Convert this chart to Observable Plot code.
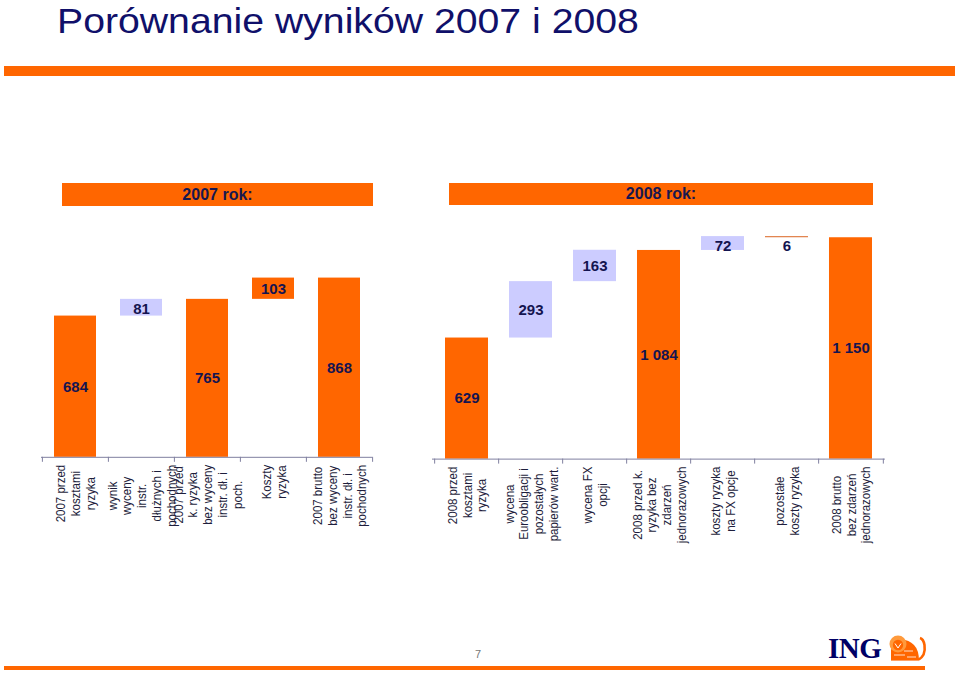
<!DOCTYPE html>
<html>
<head>
<meta charset="utf-8">
<script src="https://cdn.jsdelivr.net/npm/d3@7"></script>
<script src="https://cdn.jsdelivr.net/npm/@observablehq/plot@0.6"></script>
<style>
  body { margin: 0; background: #fff; font-family: "Liberation Sans", Arial, sans-serif; }
  #page { position: relative; width: 959px; height: 675px; overflow: hidden; background: #fff; }
  .abs { position: absolute; }
  #title { left: 57px; top: 3px; font-size: 35px; line-height: 35px; color: #10106a; white-space: nowrap; transform: scaleX(1.12); transform-origin: left top; }
  .band { background: #FF6600; }
  .hdr { background: #FF6600; color: #17174f; font-weight: bold; font-size: 16px; text-align: center; }
  #pnum { left: 470px; top: 648px; width: 16px; text-align: center; font-size: 11px; color: #777; }
  #ing { left: 828px; top: 633px; font-family: "Liberation Serif", "DejaVu Serif", serif; font-weight: bold; font-size: 29px; line-height: 30px; color: #000066; letter-spacing: -0.5px; }
</style>
</head>
<body>
<div id="page">
  <div id="title" class="abs">Porównanie wyników 2007 i 2008</div>
  <div class="abs band" style="left:4px;top:66px;width:951px;height:10px;"></div>
  <div id="hdr2007" class="abs hdr" style="left:62px;top:183px;width:311px;height:23px;line-height:23px;"></div>
  <div id="hdr2008" class="abs hdr" style="left:449px;top:183px;width:424px;height:22px;line-height:22px;"></div>
  <div id="pnum" class="abs">7</div>
  <div id="ing" class="abs">ING</div>
  <svg class="abs" style="left:886px;top:633px;" width="42" height="31" viewBox="0 0 42 31">
    <path d="M5 28 L5 17 Q6 9 13 7 Q22 6 28 12 Q33 17 33 28 Z" fill="#FF6600"/>
    <circle cx="12" cy="11" r="8.5" fill="#FF9a3c"/>
    <circle cx="12" cy="12" r="5.2" fill="#FF6600"/>
    <path d="M9 10.5 L12 15 L15 10.5" stroke="#fff" stroke-width="1" fill="none"/>
    <path d="M32 27 Q40 23 38.5 12 Q37.5 6 34 5" stroke="#FF6600" stroke-width="2.6" fill="none"/>
    <path d="M8 22 L19 22 M18 18 L27 18 M21 24 L30 24 M5 28 L34 28" stroke="#fff" stroke-width="0.8"/>
  </svg>
  <div class="abs band" style="left:4px;top:666px;width:921px;height:4px;"></div>
</div>
<script>
// ---------------- data ----------------
const headers = ["2007 rok:", "2008 rok:"];

const cats2007 = [
  "2007 przed\nkosztami\nryzyka",
  "wynik\nwyceny\ninstr.\ndłużnych i\npochodnych",
  "2007 przed\nk. ryzyka\nbez wyceny\ninstr. dł. i\npoch.",
  "Koszty\nryzyka",
  "2007 brutto\nbez wyceny\ninstr. dł. i\npochodnych"
];
const values2007 = [684, 81, 765, 103, 868];
const kinds2007 = ["suma", "wynik", "suma", "koszty", "suma"];

const cats2008 = [
  "2008 przed\nkosztami\nryzyka",
  "wycena\nEuroobligacji i\npozostałych\npapierów wart.",
  "wycena FX\nopcji",
  "2008 przed k.\nryzyka bez\nzdarzeń\njednorazowych",
  "koszty ryzyka\nna FX opcje",
  "pozostałe\nkoszty ryzyka",
  "2008 brutto\nbez zdarzeń\njednorazowych"
];
const values2008 = [629, 293, 163, 1084, 72, -6, 1150];
const kinds2008 = ["suma", "wynik", "wynik", "suma", "wynik", "koszty", "suma"];

// ---------------- helpers ----------------
document.getElementById("hdr2007").textContent = headers[0];
document.getElementById("hdr2008").textContent = headers[1];

const fmt = d3.formatLocale({decimal: ",", thousands: "\u00a0", grouping: [3], currency: ["", ""]}).format(",");

function waterfall(cats, vals, kinds) {
  let run = 0;
  return cats.map((c, i) => {
    const v = vals[i], k = kinds[i];
    let lo, hi;
    if (k === "suma") { lo = 0; hi = v; run = v; }
    else { const s = run, e = run + v; lo = Math.min(s, e); hi = Math.max(s, e); run = e; }
    return {cat: c, kind: k, label: fmt(Math.abs(v)), lo, hi, mid: (lo + hi) / 2};
  });
}

const LABEL_FONT = 11.5;
const STRETCH = 1.1;
const ctx = document.createElement("canvas").getContext("2d");
ctx.font = `${LABEL_FONT}px "Liberation Sans", Arial, sans-serif`;
const maxLineWidth = (s) => d3.max(s.split("\n"), (l) => ctx.measureText(l).width);

function chart(cfg) {
  const {cats, rows, plotLeft, plotRight, axisY, pxPerUnit, ymax, padding, colors} = cfg;
  const mL = 20, mR = 20, mT = 10, mB = 110;
  const plotW = plotRight - plotLeft;
  const plotH = ymax * pxPerUnit;
  const step = plotW / cats.length;
  const tickLen = 5 / pxPerUnit;
  const axisColor = "#7f7fa0";
  const textColor = "#141450";
  const small = (d) => (d.hi - d.lo) * pxPerUnit < 18;

  const labelMarks = cats.map((c) => Plot.text([c], {
    x: (d) => d, text: (d) => d, frameAnchor: "bottom",
    dy: 7.5 + maxLineWidth(c) / 2, rotate: -90,
    textAnchor: "middle", lineAnchor: "middle", lineHeight: 1.28 / STRETCH,
    fontSize: LABEL_FONT, fill: "#1e1e3c", ariaDescription: "xlab"
  }));

  const svg = Plot.plot({
    width: plotW + mL + mR,
    height: plotH + mT + mB,
    marginLeft: mL, marginRight: mR, marginTop: mT, marginBottom: mB,
    style: {fontFamily: '"Liberation Sans", Arial, sans-serif', overflow: "visible", background: "transparent"},
    x: {domain: cats, paddingInner: padding, paddingOuter: padding / 2, axis: null},
    y: {domain: [0, ymax], axis: null},
    color: {domain: Object.keys(colors), range: Object.values(colors)},
    marks: [
      Plot.barY(rows, {x: "cat", y1: "lo", y2: "hi", fill: "kind"}),
      Plot.ruleY([0], {stroke: axisColor, strokeWidth: 1}),
      Plot.ruleX(cats, {x: (d) => d, dx: -step / 2, y1: 0, y2: -tickLen, stroke: axisColor}),
      Plot.ruleX([cats[cats.length - 1]], {x: (d) => d, dx: step / 2, y1: 0, y2: -tickLen, stroke: axisColor}),
      Plot.text(rows.filter((d) => !small(d)), {x: "cat", y: "mid", text: "label", fontSize: 15, fontWeight: "bold", fill: textColor}),
      Plot.text(rows.filter(small), {x: "cat", y: "hi", dy: 10, text: "label", fontSize: 15, fontWeight: "bold", fill: textColor}),
      ...labelMarks
    ]
  });
  // the slide is slightly stretched horizontally: widen rotated glyphs accordingly
  svg.querySelectorAll('g[aria-description="xlab"] text').forEach((t) => {
    const tr = t.getAttribute("transform") || "";
    t.setAttribute("transform", tr + ` scale(1,${STRETCH})`);
  });
  svg.style.position = "absolute";
  svg.style.left = (plotLeft - mL) + "px";
  svg.style.top = (axisY - plotH - mT) + "px";
  document.getElementById("page").appendChild(svg);
}

chart({
  cats: cats2007, rows: waterfall(cats2007, values2007, kinds2007),
  plotLeft: 41.1, plotRight: 372.1, axisY: 456.7, pxPerUnit: 0.2065, ymax: 1050, padding: 0.37,
  colors: {suma: "#FF6600", wynik: "#CCCCFF", koszty: "#FF6600"}
});
chart({
  cats: cats2008, rows: waterfall(cats2008, values2008, kinds2008),
  plotLeft: 431.7, plotRight: 884.6, axisY: 458.3, pxPerUnit: 0.1925, ymax: 1250, padding: 0.33,
  colors: {suma: "#FF6600", wynik: "#CCCCFF", koszty: "#E07A40"}
});
</script>
</body>
</html>
